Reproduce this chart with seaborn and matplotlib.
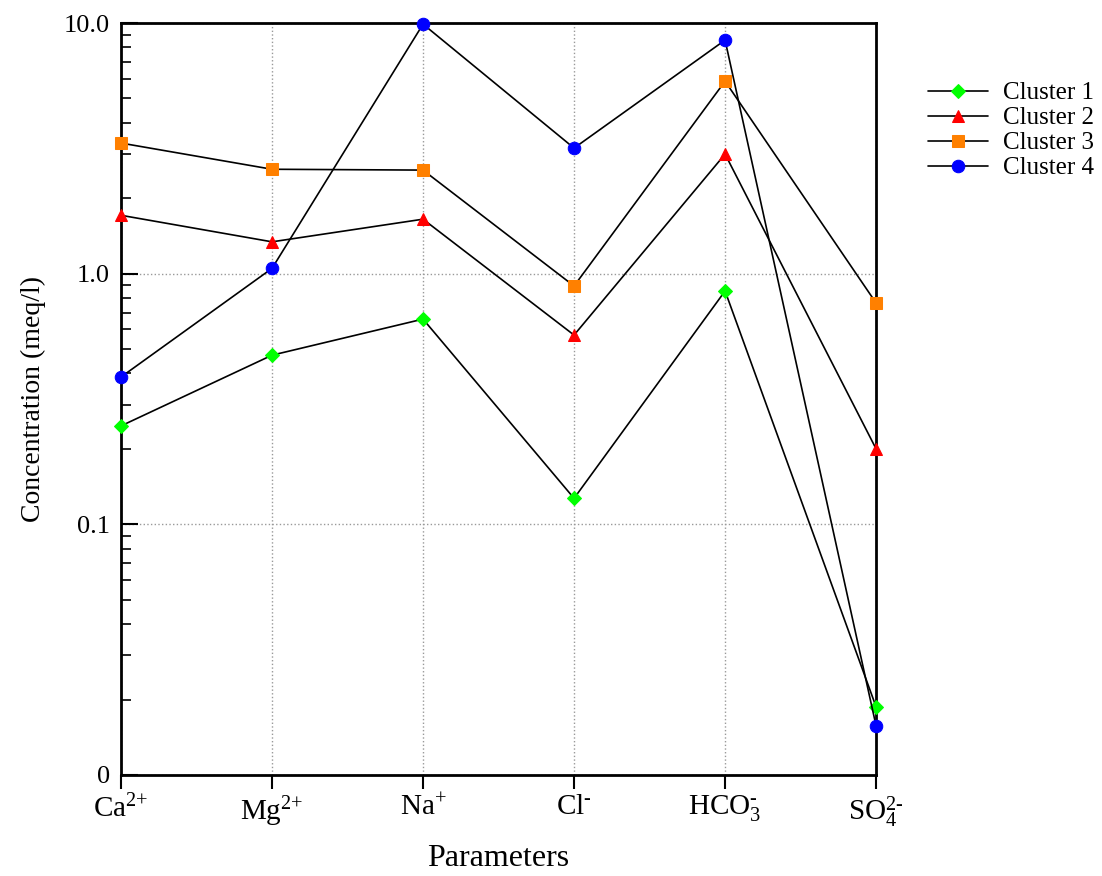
import numpy as np
import pandas as pd
import seaborn as sns
import matplotlib.pyplot as plt
from matplotlib.ticker import FixedLocator, LogLocator, NullFormatter

# Data (meq/l)
parameters = ["Ca", "Mg", "Na", "Cl", "HCO3", "SO4"]
tick_labels = [r"Ca$^{\text{2+}}$", r"Mg$^{\text{2+}}$", r"Na$^{\text{+}}$", r"Cl$^{\text{-}}$",
               r"HCO$_{\text{3}}^{\text{-}}$", r"SO$_{\text{4}}^{\text{2-}}$"]
cluster1 = [0.247, 0.473, 0.659, 0.127, 0.853, 0.0187]
cluster2 = [1.71, 1.34, 1.65, 0.569, 3.0, 0.20]
cluster3 = [3.32, 2.61, 2.59, 0.893, 5.86, 0.764]
cluster4 = [0.387, 1.05, 9.9, 3.17, 8.55, 0.0157]

names = ["Cluster 1", "Cluster 2", "Cluster 3", "Cluster 4"]
series = [cluster1, cluster2, cluster3, cluster4]
colors = ["#00ff00", "#ff0000", "#ff8000", "#0000ff"]
markers = ["D", "^", "s", "o"]
msizes = [7.5, 9, 9, 9]

sns.set_style("white")
plt.rcParams["font.family"] = ["Liberation Serif", "DejaVu Serif"]
plt.rcParams["mathtext.fontset"] = "custom"
plt.rcParams["mathtext.rm"] = "Liberation Serif"
plt.rcParams["mathtext.it"] = "Liberation Serif:italic"
for key in ["text.color", "axes.labelcolor", "xtick.color", "ytick.color"]:
    plt.rcParams[key] = "black"

fig = plt.figure(figsize=(11.02, 8.76), dpi=100)
ax = fig.add_axes([0.1098, 0.1153, 0.6852, 0.8584])

pos = np.arange(len(parameters))
for name, vals, c, m, ms in zip(names, series, colors, markers, msizes):
    df = pd.DataFrame({"pos": pos, "value": vals})
    sns.lineplot(data=df, x="pos", y="value", ax=ax, color="black", lw=1.2,
                 marker=m, markersize=ms, markerfacecolor=c, markeredgecolor=c,
                 label=name, sort=False, clip_on=False, zorder=5)

ax.set_yscale("log")
ax.set_ylim(0.01, 10)
ax.set_xlim(0, 5)
ax.yaxis.set_major_locator(FixedLocator([0.01, 0.1, 1, 10]))
ax.set_yticklabels(["0", "0.1", "1.0", "10.0"], fontsize=19)
ax.yaxis.set_minor_locator(LogLocator(base=10, subs=np.arange(2, 10)))
ax.yaxis.set_minor_formatter(NullFormatter())
ax.set_xticks(pos)
ax.set_xticklabels(tick_labels, fontsize=21)

ax.tick_params(axis="x", bottom=True, direction="out", length=10, width=1.5, pad=4)
ax.tick_params(axis="y", which="major", left=True, direction="in", length=12, width=1.5, pad=8)
ax.tick_params(axis="y", which="minor", left=True, direction="in", length=7, width=1.2)

ax.grid(True, which="major", color="#999999", linestyle=":", linewidth=1)
for s in ax.spines.values():
    s.set_linewidth(2)
    s.set_color("black")

ax.set_xlabel("Parameters", fontsize=23)
ax.xaxis.set_label_coords(0.5, -0.092)
ax.set_ylabel("Concentration (meq/l)", fontsize=20, labelpad=13)

ax.legend(loc="upper left", bbox_to_anchor=(1.056, 0.935), frameon=False,
          fontsize=18, handlelength=2.4, labelspacing=0.1, handletextpad=0.6,
          borderaxespad=0)

fig.savefig("out.png", dpi=100)
